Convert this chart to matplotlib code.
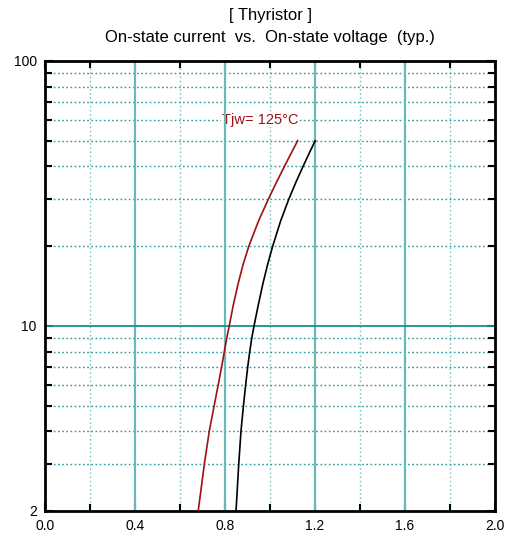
import matplotlib
matplotlib.use('Agg')
import matplotlib.pyplot as plt
from matplotlib.ticker import FixedLocator, NullFormatter

plt.rcParams['font.family'] = ['Liberation Sans', 'DejaVu Sans']

# on-state current (A) and voltage (V)
current = [2, 3, 4, 5, 6, 7, 8, 9, 10, 12, 14.5, 17, 20, 25, 30, 35, 40, 45, 50]
v_125 = [0.681, 0.708, 0.730, 0.752, 0.770, 0.785, 0.797, 0.808, 0.819, 0.837,
         0.859, 0.880, 0.906, 0.950, 0.992, 1.030, 1.064, 1.095, 1.123]
v_25 = [0.849, 0.861, 0.871, 0.882, 0.892, 0.901, 0.910, 0.919, 0.929, 0.948,
        0.969, 0.989, 1.012, 1.048, 1.083, 1.116, 1.147, 1.175, 1.201]

x_major = [0.0, 0.4, 0.8, 1.2, 1.6, 2.0]
x_minor = [0.2, 0.6, 1.0, 1.4, 1.8]
y_labels = [2, 10, 100]
y_minor = [3, 4, 5, 6, 7, 8, 9, 20, 30, 40, 50, 60, 70, 80, 90]

fig = plt.figure(figsize=(5.1, 5.37), dpi=100)
ax = fig.add_axes([45 / 510, 26 / 537, 450 / 510, 450 / 537])
ax.set_yscale('log')
ax.set_xlim(0, 2.0)
ax.set_ylim(2, 100)

# grid
for x in x_major[1:-1]:
    ax.axvline(x, color='#6bb8b8', lw=1.6, zorder=2)
for x in x_minor:
    ax.axvline(x, color='#7cc4c4', lw=1.0, ls=(0, (1.2, 1.8)), zorder=1)
ax.axhline(10, color='#1a9090', lw=1.3, zorder=2)
for y in y_minor:
    ax.axhline(y, color='#2a9a9a', lw=1.0, ls=(0, (1.2, 1.8)), zorder=1)

ax.plot(v_125, current, color='#a01010', lw=1.2, zorder=3)
ax.plot(v_25, current, color='black', lw=1.2, zorder=3)

ax.text(0.787, 60, 'Tjw= 125°C', color='#a01010', fontsize=10.5, va='center',
        ha='left', zorder=1.5, bbox=dict(facecolor='white', edgecolor='none', pad=0.5))

ax.xaxis.set_major_locator(FixedLocator(x_major))
ax.xaxis.set_minor_locator(FixedLocator(x_minor))
ax.set_xticklabels(['0.0', '0.4', '0.8', '1.2', '1.6', '2.0'])
ax.yaxis.set_major_locator(FixedLocator(y_labels))
ax.yaxis.set_minor_locator(FixedLocator(y_minor))
ax.yaxis.set_major_formatter(plt.FixedFormatter(['2', '10', '100']))
ax.yaxis.set_minor_formatter(NullFormatter())

ax.tick_params(which='both', direction='in', top=True, right=True, width=1.5,
               labelsize=10, color='black')
ax.tick_params(which='major', length=6, pad=6)
ax.tick_params(which='minor', length=5)
for s in ax.spines.values():
    s.set_linewidth(2)

fig.text(0.53, 1 - 8 / 537, '[ Thyristor ]\nOn-state current  vs.  On-state voltage  (typ.)',
         fontsize=12, ha='center', va='top', linespacing=1.6)

fig.savefig('out.png', dpi=100)
